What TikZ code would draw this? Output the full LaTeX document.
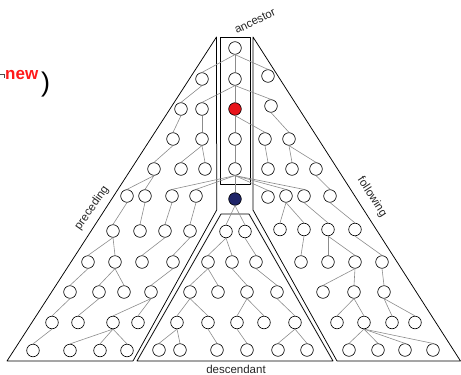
\documentclass[tikz,border=0pt]{standalone}
\usepackage{fontspec}
\setmainfont{Liberation Sans}
\definecolor{edgegray}{HTML}{8C8C8C}
\definecolor{ctxred}{HTML}{E8141B}
\definecolor{ctxblue}{HTML}{1E2468}
\definecolor{newred}{HTML}{FF1A1A}
\begin{document}
\begin{tikzpicture}[x=1pt,y=-1pt,
  nd/.style={circle,draw=black,line width=0.6pt,fill=white,minimum size=12.6pt,inner sep=0pt},
  ed/.style={draw=edgegray,line width=0.6pt},
  region/.style={draw=black,line width=0.75pt,line join=round},
  lbl/.style={font=\fontsize{11.5}{13}\selectfont,inner sep=0pt,text=black!85}]
\useasboundingbox (0,0) rectangle (461,375);
% top-left fragment
\draw[black!70,line width=0.8pt] (0,74.8) -- (4,74.8) -- (4,77.5);
\node[anchor=base west,inner sep=0pt,text=newred,font=\fontsize{17}{18}\selectfont\bfseries] (newt) at (5,79.3) {new};
\node[inner sep=0pt,font=\fontsize{27}{28}\selectfont] (paren) at (45.5,85) {)};
% regions
\draw[region] (7,361) -- (216.5,37) -- (216.7,210) -- (133,361) -- cycle;
\draw[region] (220,37) rectangle (250.5,184);
\draw[region] (253,37) -- (460.5,361) -- (337,361) -- (253,210) -- cycle;
\draw[region] (221,214) -- (249,214) -- (333,361) -- (137,361) -- cycle;
% labels
\node[lbl,rotate=26] (anc) at (255,21) {ancestor};
\node[lbl,rotate=55] (pre) at (92,208) {preceding};
\node[lbl,rotate=-57] (fol) at (372,197) {following};
\node[lbl] (desc) at (236,369.5) {descendant};
% ancestor column
\node[nd] (A0) at (235,48) {};
\node[nd] (A1) at (235,79) {};
\node[nd,fill=ctxred] (A2) at (235,109) {};
\node[nd] (A3) at (235,139) {};
\node[nd] (A4) at (235,169) {};
\node[nd,fill=ctxblue] (B) at (235,199) {};
% preceding
\node[nd] (P1a) at (202,79) {};
\node[nd] (P2a) at (181,109) {};
\node[nd] (P2b) at (202,109) {};
\node[nd] (P3a) at (173,139) {};
\node[nd] (P3b) at (202,139) {};
\node[nd] (P4a) at (154,169) {};
\node[nd] (P4b) at (181,169) {};
\node[nd] (P4c) at (205,169) {};
\node[nd] (P5a) at (127,196) {};
\node[nd] (P5b) at (145,196) {};
\node[nd] (P5c) at (172,196) {};
\node[nd] (P5d) at (196,196) {};
\node[nd] (P6a) at (113,231) {};
\node[nd] (P6b) at (140,231) {};
\node[nd] (P6c) at (165,231) {};
\node[nd] (P6d) at (190,231) {};
\node[nd] (P7a) at (88,262) {};
\node[nd] (P7b) at (115,262) {};
\node[nd] (P7c) at (142,262) {};
\node[nd] (P7d) at (173,262) {};
\node[nd] (P8a) at (70,292) {};
\node[nd] (P8b) at (99,292) {};
\node[nd] (P8c) at (124,292) {};
\node[nd] (P8d) at (151,292) {};
\node[nd] (P9a) at (52,322.5) {};
\node[nd] (P9b) at (78,322.5) {};
\node[nd] (P9c) at (113,322.5) {};
\node[nd] (P9d) at (138,322.5) {};
\node[nd] (P10a) at (33,350.5) {};
\node[nd] (P10b) at (70,350.5) {};
\node[nd] (P10c) at (100,350.5) {};
\node[nd] (P10d) at (127,350.5) {};
% following
\node[nd] (F1a) at (268,76) {};
\node[nd] (F2a) at (271,106) {};
\node[nd] (F3a) at (265,139) {};
\node[nd] (F3b) at (289,139) {};
\node[nd] (F4a) at (268,169) {};
\node[nd] (F4b) at (292,169) {};
\node[nd] (F4c) at (316,169) {};
\node[nd] (F5a) at (268,197) {};
\node[nd] (F5b) at (286,196) {};
\node[nd] (F5c) at (304,196) {};
\node[nd] (F5d) at (330,196) {};
\node[nd] (F6a) at (280,229.5) {};
\node[nd] (F6b) at (304,229.5) {};
\node[nd] (F6c) at (328,229.5) {};
\node[nd] (F6d) at (355,229.5) {};
\node[nd] (F7a) at (301,262) {};
\node[nd] (F7b) at (328,262) {};
\node[nd] (F7c) at (355,262) {};
\node[nd] (F7d) at (382,262) {};
\node[nd] (F8a) at (323,292) {};
\node[nd] (F8b) at (354,292) {};
\node[nd] (F8c) at (384,292) {};
\node[nd] (F9a) at (337,322.5) {};
\node[nd] (F9b) at (364,322.5) {};
\node[nd] (F9c) at (392,322.5) {};
\node[nd] (F9d) at (415,322.5) {};
\node[nd] (F10a) at (349,350) {};
\node[nd] (F10b) at (378,350) {};
\node[nd] (F10c) at (405,350) {};
\node[nd] (F10d) at (433,350) {};
% descendant
\node[nd] (D6a) at (226,231.5) {};
\node[nd] (D6b) at (245,231.5) {};
\node[nd] (D7a) at (208,262) {};
\node[nd] (D7b) at (232,262) {};
\node[nd] (D7c) at (256,262) {};
\node[nd] (D8a) at (190,292) {};
\node[nd] (D8b) at (218,292) {};
\node[nd] (D8c) at (247,292) {};
\node[nd] (D8d) at (277,292) {};
\node[nd] (D9a) at (177,322.5) {};
\node[nd] (D9b) at (208,322.5) {};
\node[nd] (D9c) at (237,322.5) {};
\node[nd] (D9d) at (264,322.5) {};
\node[nd] (D9e) at (295,322.5) {};
\node[nd] (D10a) at (159,350) {};
\node[nd] (D10b) at (180,350) {};
\node[nd] (D10c) at (217,350) {};
\node[nd] (D10d) at (247,350) {};
\node[nd] (D10e) at (278,350) {};
\node[nd] (D10f) at (307,350) {};
% edges
\foreach \p/\c in {A0/P1a,A0/A1,A0/F1a,
  P1a/P2a,A1/P2b,A1/A2,A1/F2a,
  P2a/P3a,P2b/P3b,A2/A3,A2/F3a,F2a/F3b,
  P3a/P4a,P3b/P4b,P3b/P4c,A3/A4,F3a/F4a,F3b/F4b,F3b/F4c,
  P4a/P5a,P4a/P5b,A4/P5c,A4/P5d,A4/B,A4/F5a,A4/F5b,A4/F5c,F4c/F5d,
  P5a/P6a,P5b/P6b,P5c/P6c,P5d/P6d,
  P6a/P7a,P6a/P7b,P6c/P7c,P6d/P7d,
  P7a/P8a,P7b/P8b,P7b/P8c,P7d/P8d,
  P8a/P9a,P8b/P9b,P8d/P9c,P8d/P9d,
  P9a/P10a,P9c/P10b,P9c/P10c,P9c/P10d,
  B/D6a,B/D6b,D6a/D7a,D6a/D7b,D6b/D7c,
  D7a/D8a,D7a/D8b,D7b/D8c,D7c/D8d,
  D8a/D9a,D8a/D9b,D8c/D9c,D8c/D9d,D8d/D9e,
  D9a/D10a,D9a/D10b,D9b/D10c,D9c/D10d,D9e/D10e,D9e/D10f,
  F5b/F6a,F5b/F6b,F5c/F6c,F5d/F6d,
  F6b/F7a,F6c/F7b,F6c/F7c,F6d/F7d,
  F7c/F8a,F7c/F8b,F7d/F8c,
  F8b/F9a,F8b/F9b,F8c/F9c,F8c/F9d,
  F9b/F10a,F9b/F10b,F9b/F10c,F9b/F10d}
  \draw[ed] (\p.south) -- (\c.north);
\end{tikzpicture}
\end{document}
